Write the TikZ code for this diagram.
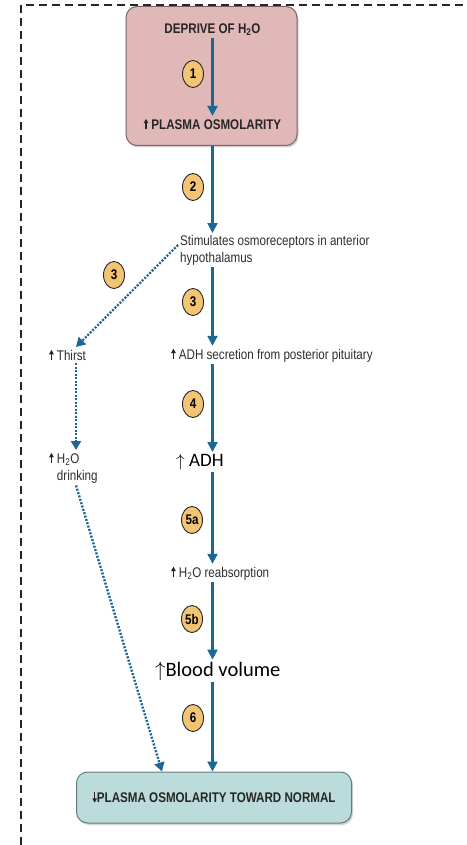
\documentclass[tikz,border=0pt]{standalone}
\usepackage{fontspec}
\usepackage{tikz}
\usetikzlibrary{arrows.meta,positioning,calc,shapes.geometric,shadows}
\newfontfamily\condfont[FakeStretch=0.83]{Liberation Sans}
\newfontfamily\calfont{Carlito}
\definecolor{flowblue}{RGB}{27,103,150}
\definecolor{pinkfill}{RGB}{224,184,184}
\definecolor{pinkedge}{RGB}{125,100,100}
\definecolor{tealfill}{RGB}{188,219,219}
\definecolor{tealedge}{RGB}{95,125,125}
\definecolor{badgefill}{RGB}{242,196,116}
\definecolor{inkgray}{RGB}{45,45,45}
\newcommand{\uparr}{\tikz[baseline=0pt,x=1pt,y=1pt]\draw[line width=1.2pt,draw=black!85,-{Triangle[length=4.5pt,width=4.5pt]}] (0,0) -- (0,10.5);}
\newcommand{\downarr}{\tikz[baseline=0pt,x=1pt,y=1pt]\draw[line width=1.2pt,draw=black!85,-{Triangle[length=4.5pt,width=4.5pt]}] (0,10.5) -- (0,0);}
\tikzset{
  flow/.style={-{Triangle[length=10pt,width=10pt]},line width=2.2pt,draw=flowblue},
  dotflow/.style={-{Triangle[length=9pt,width=10pt]},line width=2.4pt,draw=flowblue,dash pattern=on 2pt off 1.5pt},
  badge/.style={ellipse,draw=black!85,line width=0.9pt,fill=badgefill,minimum width=21pt,minimum height=27pt,inner sep=0pt,font=\condfont\bfseries\fontsize{14}{14}\selectfont},
  smalltxt/.style={font=\condfont\fontsize{14}{17}\selectfont,text=inkgray,inner sep=2pt},
  headtxt/.style={font=\condfont\bfseries\fontsize{14}{17}\selectfont,text=black!85,inner sep=2pt},
  bigtxt/.style={font=\calfont\fontsize{19}{22}\selectfont,text=black,inner sep=2pt},
  statebox/.style={rounded corners=11pt,line width=1pt,drop shadow={opacity=0.35,shadow xshift=1.5pt,shadow yshift=-2pt}}
}

\begin{document}
\begin{tikzpicture}[
  x=1pt,y=-1pt,
  frame/.style={line width=1.3pt,draw=black!85,dash pattern=on 8pt off 5pt}
]
  \useasboundingbox (0,0) rectangle (466,845);

  \coordinate (col) at (212.5,0);
  \coordinate (lcol) at (76,0);

  \node[statebox,fill=pinkfill,draw=pinkedge,minimum width=171pt,minimum height=139pt] (dehyd) at (211.5,76) {};
  \node[headtxt] (deprive) at (212.5,30) {DEPRIVE OF H\textsubscript{2}O};
  \node[headtxt] (plasmaup) at (212.5,124) {\uparr\ PLASMA OSMOLARITY};

  \draw[frame] (21,845) -- (21,5) -- (466,5);

  \node[smalltxt,anchor=north west,align=left] (stimul) at (178,233) {Stimulates osmoreceptors in anterior\\hypothalamus};
  \node[smalltxt,anchor=west] (thirst) at (47,355) {\uparr\ Thirst};
  \node[smalltxt,anchor=west] (adhsec) at (169,355) {\uparr\ ADH secretion from posterior pituitary};
  \node[smalltxt,anchor=north west,align=left] (drink) at (47,450) {\uparr\ H\textsubscript{2}O\\\hphantom{\uparr\ }drinking};
  \node[bigtxt,anchor=west] (adhup) at (174,462) {$\uparrow$\ ADH};
  \node[smalltxt,anchor=west] (reabs) at (169,573) {\uparr\ H\textsubscript{2}O reabsorption};
  \node[bigtxt,anchor=west,font=\calfont\fontsize{20.5}{24}\selectfont] (blood) at (153,671) {$\uparrow$Blood volume};

  \node[statebox,headtxt,fill=tealfill,draw=tealedge,minimum width=275pt,minimum height=51pt] (normal) at (214,797.5) {\downarr PLASMA OSMOLARITY TOWARD NORMAL};

  \foreach \n/\x/\y in {1/193/74,2/193/187,3/193/302,4/193/404,5a/192/520,5b/192/619,6/193/718}{
    \node[badge] (b\n) at (\x,\y) {\n};
  }
  \node[badge] (b3l) at (114,275) {3};

  \draw[flow] (deprive.south -| col) -- (plasmaup.north -| col);
  \draw[flow] (dehyd.south -| col) -- (stimul.north -| col);
  \draw[flow] (stimul.south -| col) -- (adhsec.north -| col);
  \draw[flow] (adhsec.south -| col) -- (adhup.north -| col);
  \draw[flow] (adhup.south -| col) -- (reabs.north -| col);
  \draw[flow] (reabs.south -| col) -- (blood.north -| col);
  \draw[flow] (blood.south -| col) -- (normal.north -| col);

  \draw[dotflow] ([yshift=-12pt]stimul.north west) -- (thirst.north -| lcol);
  \draw[dotflow] (thirst.south -| lcol) -- (drink.north -| lcol);
  \draw[dotflow] (drink.south -| lcol) -- ([xshift=-52pt]normal.north);

\end{tikzpicture}
\end{document}
